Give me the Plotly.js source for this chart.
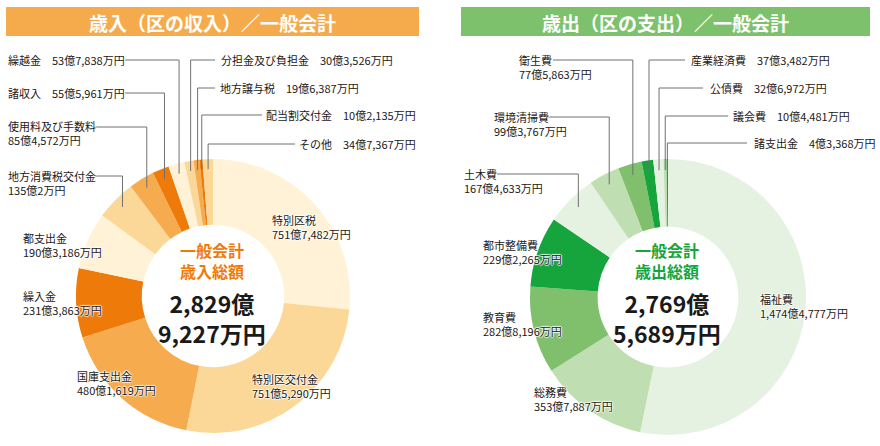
<!DOCTYPE html>
<html><head><meta charset="utf-8">
<script src="https://cdn.plot.ly/plotly-3.0.1.min.js"></script>
<style>html,body{margin:0;padding:0;background:#fff}</style>
</head><body><div id="chart" style="width:880px;height:446px"></div>
<script>
// ---- data ----
const revTitle = '歳入（区の収入）／一般会計';
const expTitle = '歳出（区の支出）／一般会計';
const revCenter = ['一般会計', '歳入総額'];
const expCenter = ['一般会計', '歳出総額'];
const revLabels = ['特別区税','特別区交付金','国庫支出金','繰入金','都支出金','地方消費税交付金','使用料及び手数料','諸収入','繰越金','分担金及び負担金','地方譲与税','配当割交付金','その他'];
const revValues = [751.7482,751.5290,480.1619,231.3863,190.3186,135.0002,85.4572,55.5961,53.7838,30.3526,19.6387,10.2135,34.7367]; // 億円
const revTotal = 2829.9227;
const expLabels = ['福祉費','総務費','教育費','都市整備費','土木費','環境清掃費','衛生費','産業経済費','公債費','議会費','諸支出金'];
const expValues = [1474.4777,353.7887,282.8196,229.2265,167.4633,99.3767,77.5863,37.3482,32.6972,10.4481,4.3368]; // 億円
const expTotal = 2769.5689;

// ---- styles ----
const O = ['#FFF2D6','#FCD898','#F5AB4E','#EE7A0A'];
const revColors = [O[0],O[1],O[2],O[3],O[0],O[1],O[2],O[3],O[0],O[1],O[2],O[3],O[1]];
const G = ['#E6F2E1','#BFDFB2','#80C06D','#16A43C'];
const expColors = [G[0],G[1],G[2],G[3],G[0],G[1],G[2],G[3],G[0],G[1],G[3]];

const W = 880, H = 446;
const px = x => x / W, py = y => 1 - y / H;
const FONT = '"Noto Sans CJK JP", "Noto Sans", sans-serif';
const TXT = '#231815';
const SHADOW = '1px 0 1px #fff, -1px 0 1px #fff, 0 1px 1px #fff, 0 -1px 1px #fff';

const revGeo = {cx:213, cy:296, R:137, hole:0.52, banner:[6,419], bannerColor:'#F5AB4C', accent:'#EE7A0A'};
const expGeo = {cx:668, cy:297, R:138, hole:0.51, banner:[461,870], bannerColor:'#7EC16C', accent:'#16A43C'};

const revPlace = [
  {x:270, y:[221,233]},
  {x:250, y:[379,392]},
  {x:75,  y:[375,390]},
  {x:21,  y:[296,309]},
  {x:21,  y:[237,252]},
  {x:6,   y:[176,189], lead:95},
  {x:6,   y:[127,140], lead:95},
  {x:6,   y:[93], lead:125},
  {x:6,   y:[60], lead:125},
  {x:219, y:[60], lead:215},
  {x:218, y:[88], lead:215},
  {x:418, y:[115], lead:262, anchor:'right'},
  {x:418, y:[144], lead:295, anchor:'right'}
];
const expPlace = [
  {x:758, y:[298,313]},
  {x:532, y:[392,406]},
  {x:481, y:[317,331]},
  {x:481, y:[244,260]},
  {x:462, y:[174,187], lead:497},
  {x:492, y:[117,131], lead:548},
  {x:517, y:[60,74], lead:553},
  {x:689, y:[60], lead:685},
  {x:708, y:[88], lead:703},
  {x:731, y:[116], lead:728},
  {x:752, y:[143], lead:747}
];

function fmt(v){
  const oku = Math.floor(v + 1e-9);
  const man = Math.round((v - oku) * 10000);
  return oku.toLocaleString('en-US') + '億' + (man ? man.toLocaleString('en-US') + '万円' : '円');
}

const traces = [], annotations = [], shapes = [];

function build(labels, values, colors, geo, place, title, center, total){
  const {cx, cy, R} = geo;
  traces.push({
    type:'pie', labels, values, sort:false, direction:'clockwise', rotation:0,
    hole:geo.hole, textinfo:'none', hoverinfo:'label+value', showlegend:false,
    marker:{colors, line:{width:0}},
    domain:{x:[px(cx-R), px(cx+R)], y:[py(cy+R), py(cy-R)]}
  });
  // banner
  shapes.push({type:'rect', xref:'paper', yref:'paper', x0:px(geo.banner[0]), x1:px(geo.banner[1]), y0:py(36), y1:py(7), fillcolor:geo.bannerColor, line:{width:0}, layer:'below'});
  annotations.push({xref:'paper', yref:'paper', x:px((geo.banner[0]+geo.banner[1])/2), y:py(22), text:title, showarrow:false, xanchor:'center', yanchor:'middle', font:{family:FONT, size:19, color:'#fff', weight:'bold'}});
  // center text
  annotations.push({xref:'paper', yref:'paper', x:px(cx-1), y:py(260), text:center[0] + '<br>' + center[1], showarrow:false, xanchor:'center', yanchor:'middle', borderpad:0, font:{family:FONT, size:16, color:geo.accent, weight:'bold'}});
  const oku = Math.floor(total + 1e-9), man = Math.round((total - oku) * 10000);
  annotations.push({xref:'paper', yref:'paper', x:px(cx-1), y:py(318), text:oku.toLocaleString('en-US')+'億<br>'+man.toLocaleString('en-US')+'万円', showarrow:false, xanchor:'center', yanchor:'middle', borderpad:0, font:{family:FONT, size:23, color:'#1a1a1a', weight:'bold'}});

  const sum = values.reduce((a,b)=>a+b, 0);
  let cum = 0;
  values.forEach((v, i) => {
    const mid = (cum + v/2) / sum; cum += v;
    const p = place[i];
    const lab = labels[i], val = fmt(v);
    const anchor = p.anchor || 'left';
    if (p.y.length === 2) {
      annotations.push({xref:'paper', yref:'paper', x:px(p.x), y:py((p.y[0]+p.y[1])/2), text:lab + '<br>' + val, align:'left', showarrow:false, xanchor:'left', yanchor:'middle', font:{family:FONT, size:11, color:TXT, shadow:SHADOW}});
    } else {
      annotations.push({xref:'paper', yref:'paper', x:px(p.x), y:py(p.y[0]), text:lab + '　' + val, showarrow:false, xanchor:anchor, yanchor:'middle', font:{family:FONT, size:11, color:TXT, shadow:SHADOW}});
    }
    if (p.lead !== undefined) {
      const th = 2 * Math.PI * mid, r = 127;
      const xv = cx + r * Math.sin(th), ye = cy - r * Math.cos(th);
      const ln = {color:'#707070', width:1};
      shapes.push({type:'line', xref:'paper', yref:'paper', x0:px(p.lead), x1:px(xv), y0:py(p.y[0]), y1:py(p.y[0]), line:ln, layer:'above'});
      shapes.push({type:'line', xref:'paper', yref:'paper', x0:px(xv), x1:px(xv), y0:py(p.y[0]), y1:py(ye), line:ln, layer:'above'});
    }
  });
}

build(revLabels, revValues, revColors, revGeo, revPlace, revTitle, revCenter, revTotal);
build(expLabels, expValues, expColors, expGeo, expPlace, expTitle, expCenter, expTotal);

Plotly.newPlot('chart', traces, {
  width:W, height:H, margin:{l:0, r:0, t:0, b:0},
  paper_bgcolor:'#fff', plot_bgcolor:'#fff',
  font:{family:FONT},
  annotations, shapes
}, {displayModeBar:false, staticPlot:true});
</script>
</body></html>
